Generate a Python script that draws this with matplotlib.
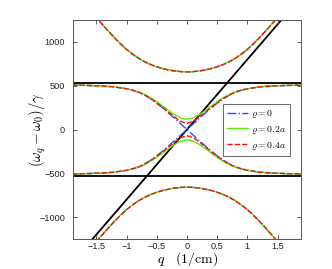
import numpy as np
import matplotlib
matplotlib.use("Agg")
import matplotlib.pyplot as plt

plt.rcParams['mathtext.fontset'] = 'cm'
plt.rcParams['font.family'] = ['Liberation Sans', 'DejaVu Sans']

# wave number q (1/cm)
q = [-1.9, -1.8, -1.7, -1.6, -1.5, -1.4, -1.3, -1.2, -1.1, -1.0,
     -0.9, -0.8, -0.7, -0.6, -0.5, -0.4, -0.3, -0.2, -0.1, 0.0,
     0.1, 0.2, 0.3, 0.4, 0.5, 0.6, 0.7, 0.8, 0.9, 1.0,
     1.1, 1.2, 1.3, 1.4, 1.5, 1.6, 1.7, 1.8, 1.9]

# outer branches (same for all rho)
upper_branch = [1599, 1519, 1439, 1359, 1279, 1200, 1123, 1048, 978, 915,
                860, 813, 774, 742, 716, 696, 680, 668, 661, 658,
                661, 668, 680, 696, 716, 742, 774, 813, 860, 915,
                978, 1048, 1123, 1200, 1279, 1359, 1439, 1519, 1599]
lower_branch = [-1599, -1519, -1439, -1359, -1279, -1200, -1123, -1048, -978, -915,
                -860, -813, -774, -742, -716, -696, -680, -668, -661, -658,
                -661, -668, -680, -696, -716, -742, -774, -813, -860, -915,
                -978, -1048, -1123, -1200, -1279, -1359, -1439, -1519, -1599]

# middle branches, rho = 0
mid_up_0 = [508, 506, 504, 502, 499, 496, 492, 486, 476, 464,
            448, 425, 392, 350, 300, 245, 185, 125, 62, 0,
            62, 125, 185, 245, 300, 350, 392, 425, 448, 464,
            476, 486, 492, 496, 499, 502, 504, 506, 508]
mid_lo_0 = [-508, -506, -504, -502, -499, -496, -492, -486, -476, -464,
            -448, -425, -392, -350, -300, -245, -185, -125, -62, 0,
            -62, -125, -185, -245, -300, -350, -392, -425, -448, -464,
            -476, -486, -492, -496, -499, -502, -504, -506, -508]
# rho = 0.2a
mid_up_2 = [509, 507, 505, 503, 500, 497, 493, 487, 477, 466,
            451, 430, 400, 362, 318, 268, 215, 168, 132, 118,
            132, 168, 215, 268, 318, 362, 400, 430, 451, 466,
            477, 487, 493, 497, 500, 503, 505, 507, 509]
mid_lo_2 = [-509, -507, -505, -503, -500, -497, -493, -487, -477, -466,
            -451, -430, -400, -362, -318, -268, -215, -168, -132, -118,
            -132, -168, -215, -268, -318, -362, -400, -430, -451, -466,
            -477, -487, -493, -497, -500, -503, -505, -507, -509]
# rho = 0.4a
mid_up_4 = [508, 506, 504, 502, 499, 496, 492, 486, 476, 465,
            449, 427, 395, 354, 305, 252, 195, 140, 92, 70,
            92, 140, 195, 252, 305, 354, 395, 427, 449, 465,
            476, 486, 492, 496, 499, 502, 504, 506, 508]
mid_lo_4 = [-508, -506, -504, -502, -499, -496, -492, -486, -476, -465,
            -449, -427, -395, -354, -305, -252, -195, -140, -92, -70,
            -92, -140, -195, -252, -305, -354, -395, -427, -449, -465,
            -476, -486, -492, -496, -499, -502, -504, -506, -508]

# exciton levels and light line
exciton_levels = [532, -532]
light_q = [-1.65, 1.65]
light_w = [-1320, 1320]

fig = plt.figure(figsize=(3.32, 2.69), dpi=100)
ax = fig.add_axes([0.221, 0.1115, 0.686, 0.814])

for lev in exciton_levels:
    ax.axhline(lev, color='k', lw=1.3, zorder=1)
ax.plot(light_q, light_w, color='k', lw=1.3, zorder=1)

styles = [(mid_up_0, mid_lo_0, '#3050ff', '-.', r'$\varrho=0$'),
          (mid_up_2, mid_lo_2, '#55ee00', '-', r'$\varrho=0.2a$'),
          (mid_up_4, mid_lo_4, '#ff1010', '--', r'$\varrho=0.4a$')]
for up, lo, c, ls, lab in styles:
    ax.plot(q, upper_branch, color=c, ls=ls, lw=1.0, label=lab)
    ax.plot(q, up, color=c, ls=ls, lw=1.0)
    ax.plot(q, lo, color=c, ls=ls, lw=1.0)
    ax.plot(q, lower_branch, color=c, ls=ls, lw=1.0)

ax.set_xlim(-1.88, 1.89)
ax.set_ylim(-1250, 1250)
ax.set_xticks([-1.5, -1, -0.5, 0, 0.5, 1, 1.5])
ax.set_xticklabels(['\u22121.5', '\u22121', '\u22120.5', '0', '0.5', '1', '1.5'])
ax.set_yticks([-1000, -500, 0, 500, 1000])
ax.set_yticklabels(['\u22121000', '\u2212500', '0', '500', '1000'])
ax.tick_params(direction='in', length=3, width=0.6, labelsize=6.6,
               top=True, right=True, colors='#444444', labelcolor='#222222')
ax.tick_params(axis='y', pad=6)
ax.tick_params(axis='x', pad=2.5)
for s in ax.spines.values():
    s.set_color('#555555')
    s.set_linewidth(0.7)

ax.set_xlabel(r'$q\quad(1/\mathrm{cm})$', fontsize=10, labelpad=-1)
ax.set_ylabel(r'$(\omega_q-\omega_0)/\gamma$', fontsize=10.5, labelpad=-6.5)

leg = ax.legend(loc='upper left', bbox_to_anchor=(0.656, 0.616), fontsize=7,
                frameon=True, fancybox=False, edgecolor='#444444',
                handlelength=2.2, borderpad=0.4, labelspacing=0.4,
                handletextpad=0.3, borderaxespad=0)
leg.get_frame().set_linewidth(0.7)

fig.savefig('out.png', dpi=100)
